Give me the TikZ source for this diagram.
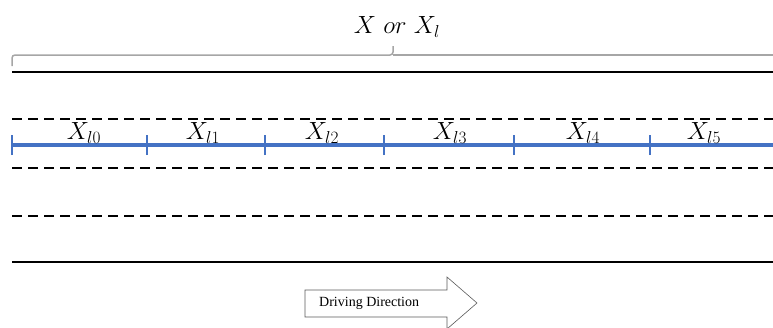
\documentclass[tikz,border=0pt]{standalone}
\usepackage{fontspec}
\newfontfamily\tnr{Liberation Serif}
\begin{document}
\begin{tikzpicture}[x=1pt,y=-1pt,
  solidln/.style={line width=2pt,black},
  dashln/.style={line width=1.8pt,black,dash pattern=on 10pt off 6pt},
  blueln/.style={line width=3.6pt,color={rgb,255:red,68;green,114;blue,196}},
  bluetick/.style={line width=2.6pt,color={rgb,255:red,68;green,114;blue,196}},
  bracegray/.style={line width=1.5pt,color={rgb,255:red,166;green,166;blue,166},rounded corners=3pt},
  seglabel/.style={font=\fontsize{24}{28}\selectfont,inner sep=0pt}]
\useasboundingbox (0,0) rectangle (773,327);
\clip (0,0) rectangle (773,327);
% title and brace
\node[font=\fontsize{24}{28}\selectfont,inner sep=0pt] (title) at (397,27) {$X\ or\ X_l$};
\coordinate (bl) at (12,66);
\coordinate (bc) at (393,46);
\coordinate (br) at (775,55);
\draw[bracegray] (bl) -- (12,55) -- (393,55) -- (bc);
\draw[bracegray] (393,55) -- (br);
% road lines
\coordinate (s1l) at (12,72); \coordinate (s1r) at (773,72);
\coordinate (s2l) at (12,262); \coordinate (s2r) at (773,262);
\draw[solidln] (s1l) -- (s1r);
\draw[solidln] (s2l) -- (s2r);
\coordinate (d1l) at (12,119); \coordinate (d1r) at (773,119);
\coordinate (d2l) at (12,168); \coordinate (d2r) at (773,168);
\coordinate (d3l) at (12,216); \coordinate (d3r) at (773,216);
\draw[dashln] (d1l) -- (d1r);
\draw[dashln] (d2l) -- (d2r);
\draw[dashln] (d3l) -- (d3r);
% blue segment line
\coordinate (b0) at (12,145);
\coordinate (b1) at (147,145);
\coordinate (b2) at (265,145);
\coordinate (b3) at (384,145);
\coordinate (b4) at (514,145);
\coordinate (b5) at (650,145);
\coordinate (b6) at (775,145);
\draw[blueln] (b0) -- (b6);
\foreach \p in {b0,b1,b2,b3,b4,b5}
  \draw[bluetick] ([yshift=-10pt]\p) -- ([yshift=10pt]\p);
\node[seglabel] (l0) at (84,133) {$X_{l0}$};
\node[seglabel] (l1) at (203,133) {$X_{l1}$};
\node[seglabel] (l2) at (322,133) {$X_{l2}$};
\node[seglabel] (l3) at (450,133) {$X_{l3}$};
\node[seglabel] (l4) at (583,133) {$X_{l4}$};
\node[seglabel] (l5) at (704,133) {$X_{l5}$};
% driving direction arrow
\draw[line width=0.6pt,color={rgb,255:red,90;green,90;blue,90},fill=white]
  (305,290) -- (447,290) -- (447,277) -- (477,303) -- (447,329) -- (447,317) -- (305,317) -- cycle;
\node[font=\tnr\fontsize{14}{16}\selectfont,inner sep=0pt,anchor=west] (dd) at (319,303.5) {Driving Direction};
\end{tikzpicture}
\end{document}
